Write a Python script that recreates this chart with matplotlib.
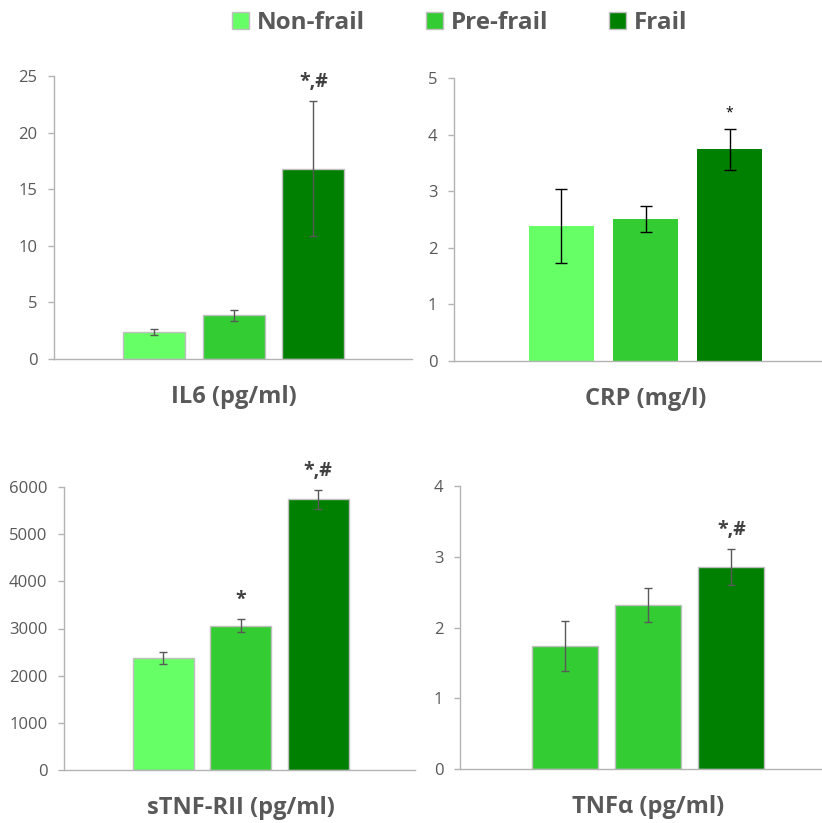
import matplotlib
matplotlib.use("Agg")
import matplotlib.pyplot as plt
from matplotlib.patches import Patch

plt.rcParams['font.family'] = ['Open Sans', 'DejaVu Sans']

groups = ["Non-frail", "Pre-frail", "Frail"]
group_colors = ["#66FF66", "#33CC33", "#008000"]

il6_vals = [2.4, 3.85, 16.8]
il6_errs = [0.24, 0.45, 5.95]
il6_marks = ["", "", "*,#"]

crp_vals = [2.39, 2.51, 3.74]
crp_errs = [0.65, 0.23, 0.36]
crp_marks = ["", "", "*"]

stnf_vals = [2370, 3063, 5740]
stnf_errs = [130, 140, 205]
stnf_marks = ["", "*", "*,#"]

tnfa_vals = [1.74, 2.32, 2.85]
tnfa_errs = [0.35, 0.245, 0.255]
tnfa_marks = ["", "", "*,#"]
tnfa_colors = ["#33CC33", "#33CC33", "#008000"]

W, H = 822, 823
fig = plt.figure(figsize=(W / 100, H / 100), dpi=100)

GRAY = "#595959"
AXC = "#B3B3B3"

panels = [
    dict(title="IL6 (pg/ml)", vals=il6_vals, errs=il6_errs, marks=il6_marks, colors=group_colors,
         ylim=(0, 25), yticks=[0, 5, 10, 15, 20, 25], rect=(54, 412, 359, 76), xlim=(-1.264, 3.24),
         width=0.78, edge="#BFBFBF", ecolor="#595959", cap=2.9, mstyle="big"),
    dict(title="CRP (mg/l)", vals=crp_vals, errs=crp_errs, marks=crp_marks, colors=group_colors,
         ylim=(0, 5), yticks=[0, 1, 2, 3, 4, 5], rect=(454, 822, 361, 78), xlim=(-1.279, 3.10),
         width=0.78, edge="none", ecolor="black", cap=4.0, mstyle="small"),
    dict(title="sTNF-RII (pg/ml)", vals=stnf_vals, errs=stnf_errs, marks=stnf_marks, colors=group_colors,
         ylim=(0, 6000), yticks=[0, 1000, 2000, 3000, 4000, 5000, 6000], rect=(64, 415, 770, 487),
         xlim=(-1.277, 3.25), width=0.787, edge="#BFBFBF", ecolor="#595959", cap=2.9, mstyle="big"),
    dict(title="TNF\u03b1 (pg/ml)", vals=tnfa_vals, errs=tnfa_errs, marks=tnfa_marks, colors=tnfa_colors,
         ylim=(0, 4), yticks=[0, 1, 2, 3, 4], rect=(460, 822, 769, 486), xlim=(-1.261, 3.09),
         width=0.79, edge="#BFBFBF", ecolor="#595959", cap=2.9, mstyle="big"),
]

for p in panels:
    l, r, y0, yt = p["rect"]
    ax = fig.add_axes([l / W, 1 - y0 / H, (r - l) / W, (y0 - yt) / H])
    x = list(range(len(p["vals"])))
    ax.bar(x, p["vals"], width=p["width"], color=p["colors"],
           edgecolor=p["edge"], linewidth=1.0 if p["edge"] != "none" else 0, zorder=2)
    ax.errorbar(x, p["vals"], yerr=p["errs"], fmt="none", ecolor=p["ecolor"],
                elinewidth=1.0, capsize=p["cap"], capthick=1.0, zorder=3)
    ax.set_xlim(*p["xlim"])
    ax.set_ylim(*p["ylim"])
    ax.set_yticks(p["yticks"])
    ax.set_xticks([])
    for s in ["top", "right"]:
        ax.spines[s].set_visible(False)
    for s in ["left", "bottom"]:
        ax.spines[s].set_color(AXC)
        ax.spines[s].set_linewidth(1.0)
    ax.tick_params(axis="y", direction="out", length=4.5, width=1.0, color=AXC,
                   labelcolor=GRAY, labelsize=12, pad=7.5)
    ax.patch.set_alpha(0)
    for xi, v, e, m in zip(x, p["vals"], p["errs"], p["marks"]):
        if not m:
            continue
        if p["mstyle"] == "big":
            ax.annotate(m, (xi, v + e), xytext=(0, 19), textcoords="offset pixels",
                        ha="center", va="center", fontsize=14, fontweight="bold",
                        color="#404040", annotation_clip=False)
        else:
            ax.annotate(m, (xi, v + e), xytext=(0, 16), textcoords="offset pixels",
                        ha="center", va="center", fontsize=10,
                        color="black", annotation_clip=False)
    ax.annotate(p["title"], (1, 0), xycoords=("data", "axes fraction"),
                xytext=(0, -38), textcoords="offset pixels", ha="center", va="center",
                fontsize=17, fontweight="bold", color=GRAY, annotation_clip=False)

handles = [Patch(facecolor=c, edgecolor="#BFBFBF", linewidth=1.0) for c in group_colors]
leg = fig.legend(handles, groups, loc="center", bbox_to_anchor=(0.5596, 0.972), ncol=3,
                 frameon=False, handlelength=0.68, handleheight=0.68, handletextpad=0.35,
                 columnspacing=2.5, prop={"size": 17.5, "weight": "bold"})
for t in leg.get_texts():
    t.set_color(GRAY)

fig.savefig("out.png", dpi=100)
